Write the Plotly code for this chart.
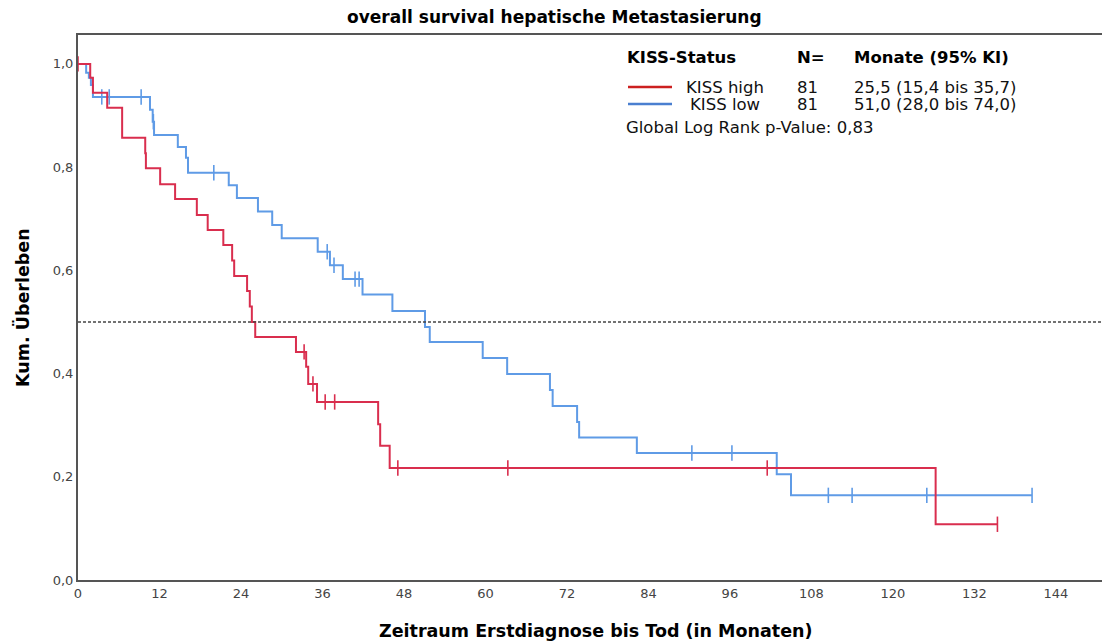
import numpy as np
import plotly.graph_objects as go

# ---- data ----
high_times = [0, 1.8, 2.2, 4.3, 6.5, 9.9, 10.0, 12.1, 14.3, 17.5, 19.1, 21.4, 22.7, 23.0,
              24.9, 25.3, 25.6, 26.1, 32.1, 33.6, 33.9, 35.2, 44.2, 44.5, 45.9, 126.3]
high_surv = [1.0, 0.973, 0.944, 0.915, 0.857, 0.827, 0.798, 0.767, 0.738, 0.707, 0.678, 0.649, 0.619, 0.589,
             0.560, 0.530, 0.500, 0.471, 0.442, 0.413, 0.380, 0.345, 0.302, 0.260, 0.217, 0.108]
high_censor = [0.0, 33.3, 34.6, 36.4, 37.8, 47.1, 63.3, 101.5, 135.4]
high_end = 135.4

low_times = [0, 1.2, 1.6, 1.9, 2.2, 10.6, 11.0, 11.2, 14.7, 15.9, 16.2, 22.2, 23.4, 26.5, 28.6, 30.0,
             35.3, 37.1, 39.0, 41.9, 46.3, 51.1, 51.8, 59.6, 63.2, 69.5, 69.9, 73.5, 73.8, 82.3, 102.9, 105.0]
low_surv = [1.0, 0.983, 0.973, 0.959, 0.936, 0.911, 0.888, 0.862, 0.839, 0.818, 0.789, 0.765, 0.740, 0.714, 0.688, 0.662,
            0.636, 0.610, 0.583, 0.553, 0.521, 0.490, 0.461, 0.430, 0.399, 0.368, 0.337, 0.306, 0.276, 0.246, 0.205, 0.164]
low_censor = [3.5, 4.6, 9.3, 11.1, 20.0, 36.7, 37.7, 40.8, 41.4, 90.4, 96.3, 110.5, 114.0, 125.0, 140.5]
low_end = 140.5

x_ticks = [0, 12, 24, 36, 48, 60, 72, 84, 96, 108, 120, 132, 144]
y_ticks = [0.0, 0.2, 0.4, 0.6, 0.8, 1.0]
y_ticklabels = ["0,0", "0,2", "0,4", "0,6", "0,8", "1,0"]

groups = ["KISS high", "KISS low"]
n_values = ["81", "81"]
medians = ["25,5 (15,4 bis 35,7)", "51,0 (28,0 bis 74,0)"]
p_text = "Global Log Rank p-Value: 0,83"
title = "overall survival hepatische Metastasierung"
x_title = "Zeitraum Erstdiagnose bis Tod (in Monaten)"
y_title = "Kum. Überleben"

RED = "#d92e4e"
BLUE = "#5f9be6"
FONT = "DejaVu Sans"
W, H = 1102, 644
L, R, T, B = 78, 0, 35, 64


def surv_at(times, surv, t):
    idx = np.searchsorted(np.array(times), t, side="right") - 1
    return np.array(surv)[np.clip(idx, 0, None)]


fig = go.Figure()
for times, surv, cens, end, col in [(low_times, low_surv, low_censor, low_end, BLUE),
                                     (high_times, high_surv, high_censor, high_end, RED)]:
    xs = list(times) + [end]
    ys = list(surv) + [surv[-1]]
    fig.add_trace(go.Scatter(x=xs, y=ys, mode="lines", line=dict(color=col, width=2, shape="hv"),
                             showlegend=False, hoverinfo="skip"))
    fig.add_trace(go.Scatter(x=cens, y=surv_at(times, surv, cens), mode="markers",
                             marker=dict(symbol="line-ns", size=11, line=dict(color=col, width=1.6)),
                             showlegend=False, cliponaxis=False, hoverinfo="skip"))

# dashed median reference line
fig.add_hline(y=0.5, line=dict(color="#444", width=1.5, dash="3px,2px"))

XR = [0, 150.8]
YR = [0, 1.056]


def px2x(p):
    return XR[0] + (p - L) / (W - R - L) * (XR[1] - XR[0])


def py2y(p):
    return YR[0] + (H - B - p) / (H - B - T) * (YR[1] - YR[0])


def pxp(p):
    return (p - L) / (W - R - L)


def pyp(p):
    return (H - B - p) / (H - B - T)


ann = []
hdr_font = dict(family=FONT, size=16.5, color="black")
for px, txt in [(625, "<b>KISS-Status</b>"), (795, "<b>N=</b>"), (852, "<b>Monate (95% KI)</b>")]:
    ann.append(dict(x=px2x(px), y=py2y(57), text=txt, xref="x", yref="y", xanchor="left",
                    yanchor="middle", showarrow=False, font=hdr_font))
row_font = dict(family=FONT, size=16.5, color="#111")
row_y = [87, 104]
name_x = [684, 688]
for i in range(2):
    ann.append(dict(x=px2x(name_x[i]), y=py2y(row_y[i]), text=groups[i], xref="x", yref="y", xanchor="left",
                    yanchor="middle", showarrow=False, font=row_font))
    ann.append(dict(x=px2x(795), y=py2y(row_y[i]), text=n_values[i], xref="x", yref="y", xanchor="left",
                    yanchor="middle", showarrow=False, font=row_font))
    ann.append(dict(x=px2x(852), y=py2y(row_y[i]), text=medians[i], xref="x", yref="y", xanchor="left",
                    yanchor="middle", showarrow=False, font=row_font))
ann.append(dict(x=px2x(624), y=py2y(127), text=p_text, xref="x", yref="y", xanchor="left",
                yanchor="middle", showarrow=False, font=row_font))
# axis titles
ann.append(dict(x=pxp(595), y=pyp(631), xref="paper", yref="paper", text="<b>" + x_title + "</b>",
                xanchor="center", yanchor="middle", showarrow=False,
                font=dict(family=FONT, size=17.5, color="black")))
ann.append(dict(x=pxp(22), y=pyp(308), xref="paper", yref="paper", text="<b>" + y_title + "</b>",
                textangle=-90, xanchor="center", yanchor="middle", showarrow=False,
                font=dict(family=FONT, size=17.5, color="black")))

shapes = [
    dict(type="line", xref="x", yref="y", x0=px2x(613), x1=XR[1], y0=py2y(70), y1=py2y(70),
         line=dict(color="black", width=1.5)),
    dict(type="line", xref="x", yref="y", x0=px2x(628), x1=px2x(672), y0=py2y(87), y1=py2y(87),
         line=dict(color="#cc2020", width=2.5)),
    dict(type="line", xref="x", yref="y", x0=px2x(628), x1=px2x(672), y0=py2y(104), y1=py2y(104),
         line=dict(color="#4a7fd0", width=2.5)),
]

fig.update_layout(
    width=W, height=H,
    margin=dict(l=L, r=R, t=T, b=B, autoexpand=False),
    paper_bgcolor="white", plot_bgcolor="white",
    title=dict(text="<b>" + title + "</b>", x=0.503, xanchor="center", y=1 - 17 / H, yanchor="middle",
               font=dict(family=FONT, size=17, color="black")),
    annotations=ann,
    shapes=shapes,
    font=dict(family=FONT),
)
fig.update_xaxes(range=XR, tickvals=x_ticks, showgrid=False, zeroline=False, automargin=False,
                 showline=True, linecolor="#555", linewidth=2, mirror=True, ticks="",
                 tickfont=dict(family=FONT, size=13, color="#444"))
fig.update_yaxes(range=YR, tickvals=y_ticks, ticktext=y_ticklabels, showgrid=False, zeroline=False,
                 automargin=False, showline=True, linecolor="#555", linewidth=2, ticks="",
                 tickfont=dict(family=FONT, size=13, color="#444"))

fig.write_html("out.html", config={"displayModeBar": False},
               post_script="document.body.style.margin='0px';document.body.style.overflow='hidden';")
